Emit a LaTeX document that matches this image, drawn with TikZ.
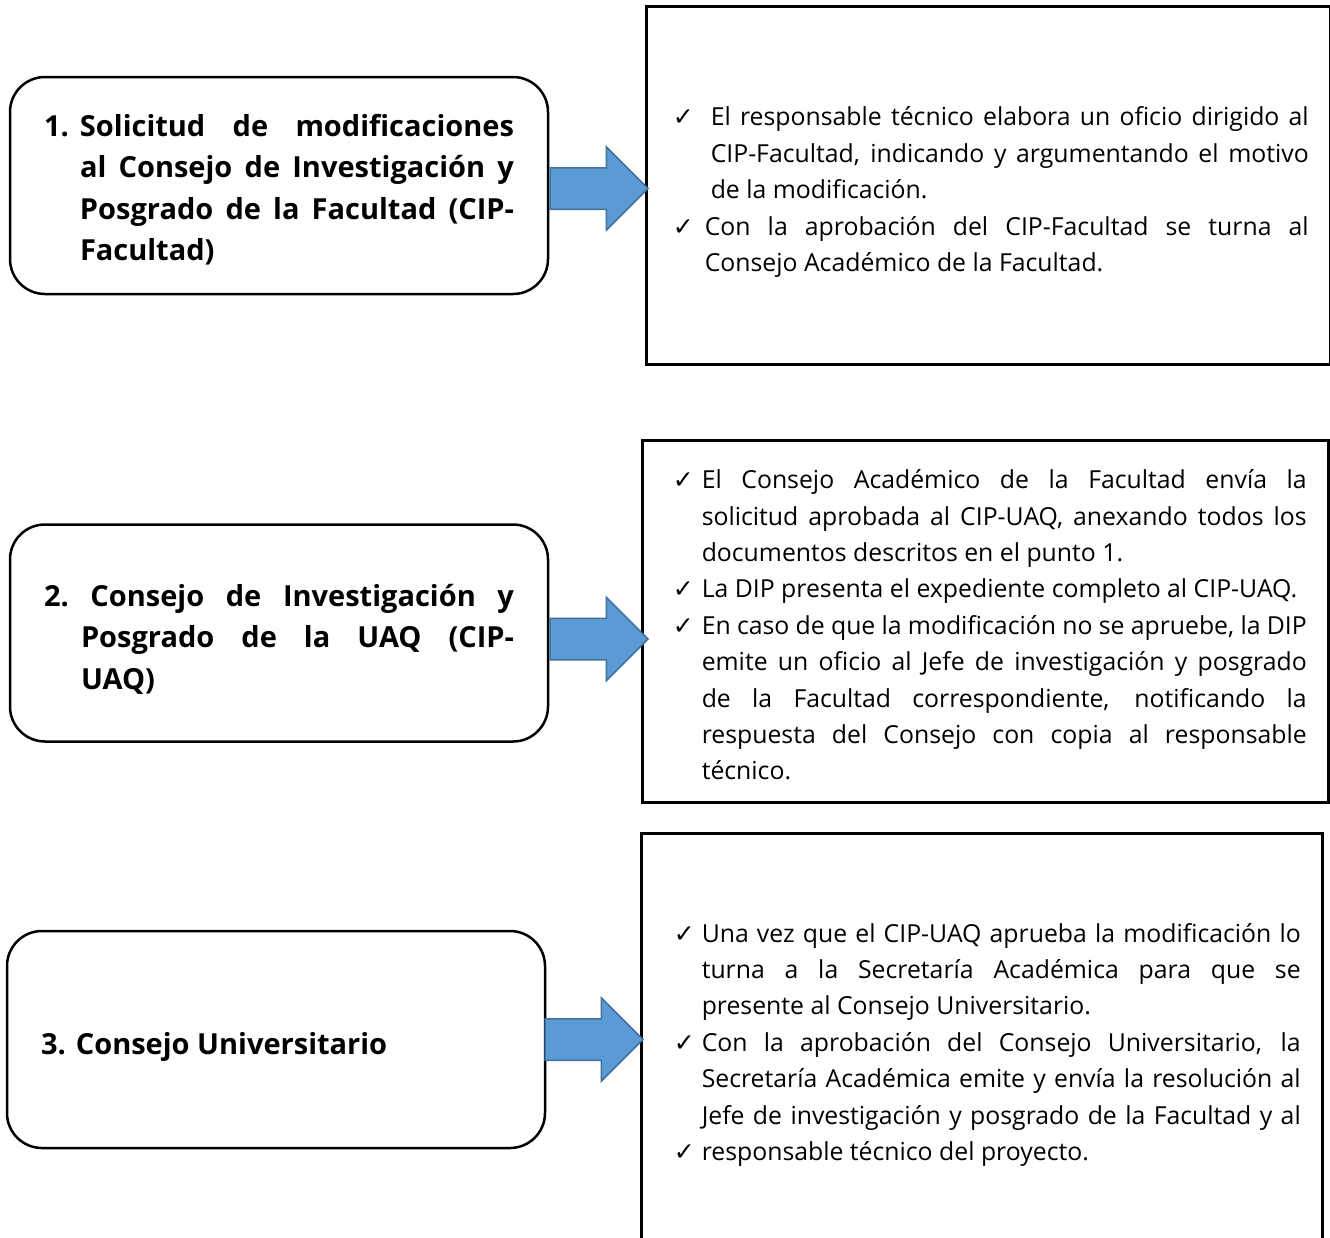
\documentclass[tikz,border=0pt]{standalone}
\usepackage{fontspec}
\setmainfont{Open Sans}
\newfontfamily\chkfont{DejaVu Sans}
\usetikzlibrary{positioning, shapes.arrows}
\definecolor{arrowfill}{HTML}{5B9BD5}
\definecolor{arrowline}{HTML}{41719C}
\newcommand{\chkitem}[1]{\par\hangindent=#1\hangafter=1\noindent
  \makebox[#1][l]{\chkfont\fontsize{25}{25}\selectfont ✓}}
\newcommand{\fullend}{{\parfillskip=0pt\par}}
% invisible struts to nudge a text block up or down in its box
\newcommand{\topstrut}[1]{\rule{0pt}{#1}}
\newcommand{\botstrut}[1]{\rule[-#1]{0pt}{#1}}
\tikzset{
  lbox/.style={rectangle,rounded corners=35pt,draw=black,line width=2.5pt,
    minimum width=538pt,minimum height=217pt,text width=470pt,inner xsep=34pt,
    align=justify,font=\fontsize{29}{41.5}\selectfont\bfseries},
  rbox/.style={rectangle,draw=black,line width=3pt,inner xsep=22pt,
    align=justify,font=\fontsize{24.8}{36.4}\selectfont},
  barrow/.style={single arrow,draw=arrowline,fill=arrowfill,line width=1.5pt,
    inner xsep=0pt,inner ysep=20pt,minimum height=98pt,
    single arrow head extend=21pt}
}

\begin{document}
\begin{tikzpicture}[x=1pt,y=-1pt]
\useasboundingbox (0,0) rectangle (1330,1237);

% step 1
\node[lbox] (b1) at (279,185.5) {\hangindent=36pt\hangafter=1\noindent
  \topstrut{31pt}\makebox[36pt][l]{1.}Solicitud de modificaciones\linebreak
  al Consejo de Investigación y\linebreak
  Posgrado de la Facultad (CIP-\linebreak Facultad)\par};
\node[rbox,right=96pt of b1,text width=640pt,minimum height=358pt] (r1) {\leftskip=4pt
  \chkitem{38pt}El responsable técnico elabora un oficio dirigido al\linebreak
  CIP-Facultad, indicando y argumentando el motivo\linebreak
  de la modificación.
  \chkitem{32pt}Con la aprobación del CIP-Facultad se turna al\linebreak
  Consejo Académico de la Facultad.\botstrut{10pt}\par};
\node[barrow,anchor=tail,yshift=-3pt] (a1) at (b1.east) {};

% step 2
\node[lbox] (b2) at (279,633) {\hangindent=37pt\hangafter=1\noindent
  \topstrut{34pt}2.\ Consejo de Investigación y\linebreak
  Posgrado de la UAQ (CIP-\linebreak UAQ)\par};
\node[rbox,right=92pt of b2,yshift=12pt,text width=642pt,minimum height=362pt] (r2) {\leftskip=8pt
  \chkitem{29pt}El Consejo Académico de la Facultad envía la\linebreak
  solicitud aprobada al CIP-UAQ, anexando todos los\linebreak
  documentos descritos en el punto 1.
  \chkitem{29pt}La DIP presenta el expediente completo al CIP-UAQ.
  \chkitem{29pt}En caso de que la modificación no se apruebe, la DIP\linebreak
  emite un oficio al Jefe de investigación y posgrado\linebreak
  de la Facultad correspondiente, notificando la\linebreak
  respuesta del Consejo con copia al responsable\linebreak
  técnico.\botstrut{10pt}\par};
\node[barrow,anchor=tail,yshift=-6pt] (a2) at (b2.east) {};

% step 3
\node[lbox,minimum width=536pt] (b3) at (276,1039.5) {\topstrut{37pt}3. Consejo Universitario\par};
\node[rbox,right=94pt of b3,text width=637pt,minimum height=412pt] (r3) {\leftskip=10pt
  \chkitem{28pt}Una vez que el CIP-UAQ aprueba la modificación lo\linebreak
  turna a la Secretaría Académica para que se\linebreak
  presente al Consejo Universitario.
  \chkitem{28pt}Con la aprobación del Consejo Universitario, la\linebreak
  Secretaría Académica emite y envía la resolución al\linebreak
  Jefe de investigación y posgrado de la Facultad y al\fullend
  \chkitem{28pt}responsable técnico del proyecto.\botstrut{13pt}\par};
\node[barrow,anchor=tail,xshift=-2pt] (a3) at (b3.east) {};
\end{tikzpicture}
\end{document}
